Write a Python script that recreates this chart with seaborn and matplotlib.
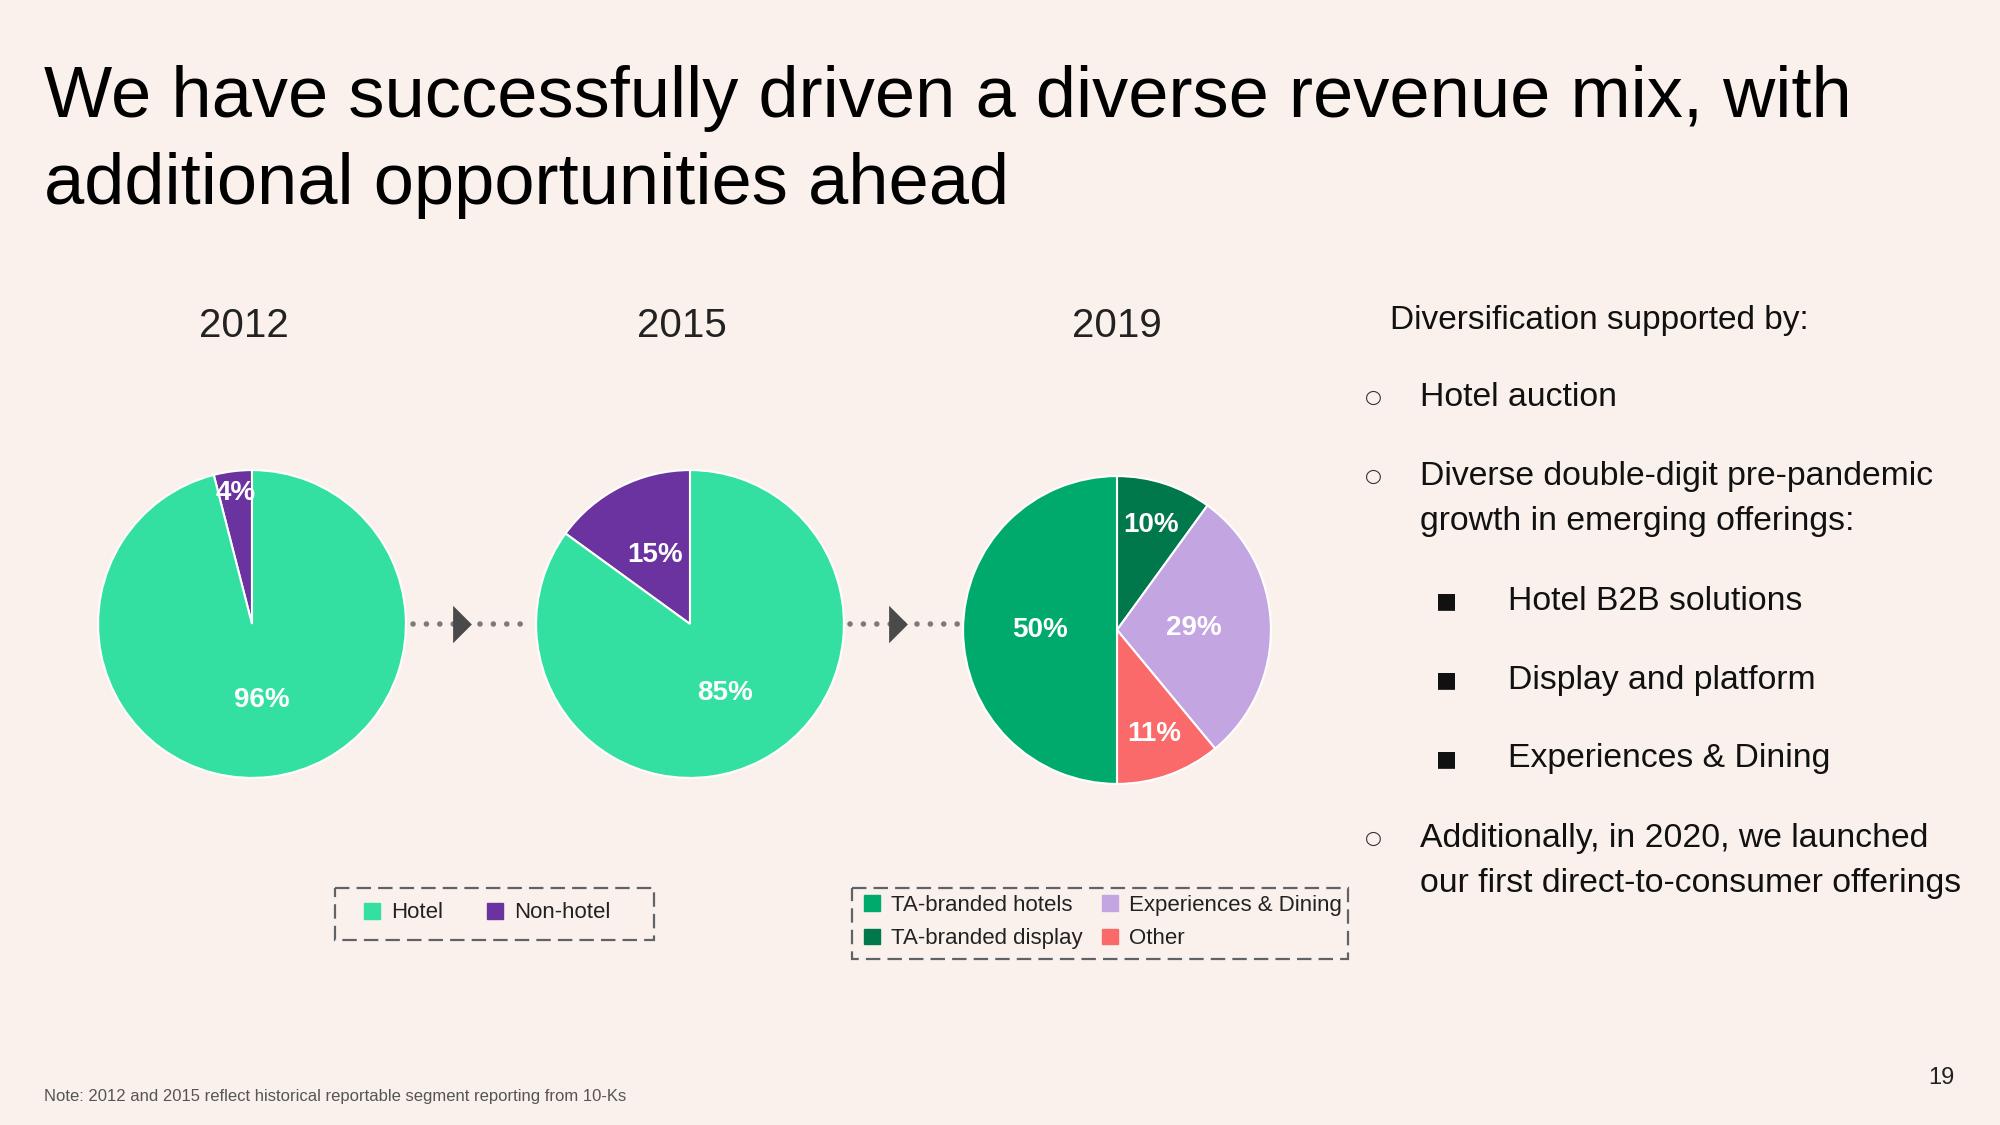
import numpy as np
import seaborn as sns
import matplotlib.pyplot as plt
from matplotlib.patches import Patch, Rectangle

# data
years = ['2012', '2015', '2019']
seg_old = ['Hotel', 'Non-hotel']
share_2012 = [4, 96]          # non-hotel first (drawn from 12 o'clock)
share_2015 = [15, 85]
seg_2019 = ['TA-branded display', 'Experiences & Dining', 'Other', 'TA-branded hotels']
share_2019 = [10, 29, 11, 50]
legend_2019 = ['TA-branded hotels', 'TA-branded display', 'Experiences & Dining', 'Other']

col = {'Hotel': '#34E0A1', 'Non-hotel': '#6B33A0',
       'TA-branded hotels': '#00AA6C', 'TA-branded display': '#00784B',
       'Experiences & Dining': '#C3A5E2', 'Other': '#FA6A6A'}

title_lines = ['We have successfully driven a diverse revenue mix, with',
               'additional opportunities ahead']
bullets = [('o', 'Hotel auction'),
           ('o', 'Diverse double-digit pre-pandemic\ngrowth in emerging offerings:'),
           ('s', 'Hotel B2B solutions'),
           ('s', 'Display and platform'),
           ('s', 'Experiences & Dining'),
           ('o', 'Additionally, in 2020, we launched\nour first direct-to-consumer offerings')]

BG = '#FAF1EC'
W, H = 2000, 1125
sns.set_theme(style='white')
plt.rcParams['font.family'] = ['Liberation Sans', 'DejaVu Sans']

fig = plt.figure(figsize=(20, 11.25), dpi=100, facecolor=BG)
bg = fig.add_axes([0, 0, 1, 1])
bg.set_xlim(0, W)
bg.set_ylim(H, 0)
bg.axis('off')
bg.set_facecolor(BG)

# title
for y, line in zip([117, 204], title_lines):
    bg.text(44, y, line, fontsize=52, color='black', va='baseline')

# pies
R = 157
centers = [(252, 624), (690, 624), (1117, 630)]
datasets = [(share_2012, ['Non-hotel', 'Hotel'], True),
            (share_2015, ['Non-hotel', 'Hotel'], True),
            (share_2019, seg_2019, False)]

for (cx, cy), yr, (vals, names, ccw) in zip(centers, years, datasets):
    ax = fig.add_axes([(cx - R) / W, 1 - (cy + R) / H, 2 * R / W, 2 * R / H])
    wedges, _ = ax.pie(vals, colors=[col[n] for n in names], startangle=90,
                       counterclock=ccw, radius=1,
                       wedgeprops=dict(edgecolor='white', linewidth=1.5))
    ax.set_xlim(-1.02, 1.02)
    ax.set_ylim(-1.02, 1.02)
    ax.set_aspect('equal')
    ax.axis('off')
    for w, v in zip(wedges, vals):
        mid = np.deg2rad((w.theta1 + w.theta2) / 2)
        if v < 8:
            r = 0.86
        elif v < 14:
            r = 0.72
        else:
            r = 0.5
        ax.text(r * np.cos(mid), r * np.sin(mid), f'{v}%', ha='center', va='center',
                color='white', fontsize=20, fontweight='bold')
    bg.text(cx - 8 if yr != '2019' else cx, 326, yr, ha='center', va='center',
            fontsize=29, color='#222222')

# dotted arrows between pies
tri = [(-0.5, -1), (-0.5, 1), (0.5, 0), (-0.5, -1)]
for x0, x1, xt in [(413, 528, 462), (850, 958, 898)]:
    bg.plot([x0, x1], [624, 624], color='#7a7a7a', lw=4,
            linestyle=(0, (0.01, 2.4)), dash_capstyle='round', solid_capstyle='round')
    bg.plot([xt], [624], marker=tri, markersize=27, color='#4a4a4a', markeredgewidth=0)

# legends (no frame; dashed boxes drawn separately)
leg_kw = dict(frameon=False, handlelength=0.7, handleheight=0.7, handletextpad=0.5,
              borderpad=0, borderaxespad=0, prop={'size': 16}, labelcolor='#222222',
              loc='center left')
h1 = [Patch(color=col[n]) for n in seg_old]
fig.legend(h1, seg_old, ncol=2, columnspacing=2.0,
           bbox_to_anchor=(364 / W, 1 - 913 / H), **leg_kw)
h2 = [Patch(color=col[n]) for n in legend_2019]
fig.legend(h2, legend_2019, ncol=2, columnspacing=0.9, labelspacing=0.55,
           bbox_to_anchor=(864 / W, 1 - 922 / H), **leg_kw)
for x0, y0, x1, y1 in [(335, 888, 654, 940), (852, 888, 1348, 959)]:
    bg.add_patch(Rectangle((x0, y0), x1 - x0, y1 - y0, fill=False, edgecolor='#5f6368',
                           lw=1.6, linestyle=(0, (6.5, 3.2))))

# right-hand text
bg.text(1390, 320, 'Diversification supported by:', fontsize=24, va='center', color='#111111')
ys = [397, 499, 601, 680, 759, 861]
for (kind, txt), y in zip(bullets, ys):
    if kind == 'o':
        bg.text(1373, y - (23 if '\n' in txt else 0), '○', fontsize=14, ha='center', va='center',
                color='#333333', family=['DejaVu Sans'])
        bg.text(1420, y, txt, fontsize=24.3, va='center', color='#111111', linespacing=1.62)
    else:
        bg.text(1446, y, '■', fontsize=16, ha='center', va='center', color='#111111',
                family=['DejaVu Sans'])
        bg.text(1508, y, txt, fontsize=24.3, va='center', color='#111111')

# footer
bg.text(44, 1096, 'Note: 2012 and 2015 reflect historical reportable segment reporting from 10-Ks',
        fontsize=12, va='center', color='#555555')
bg.text(1941, 1078, '19', fontsize=17, ha='center', va='center', color='#222222')

fig.savefig('out.png', dpi=100, facecolor=BG)
